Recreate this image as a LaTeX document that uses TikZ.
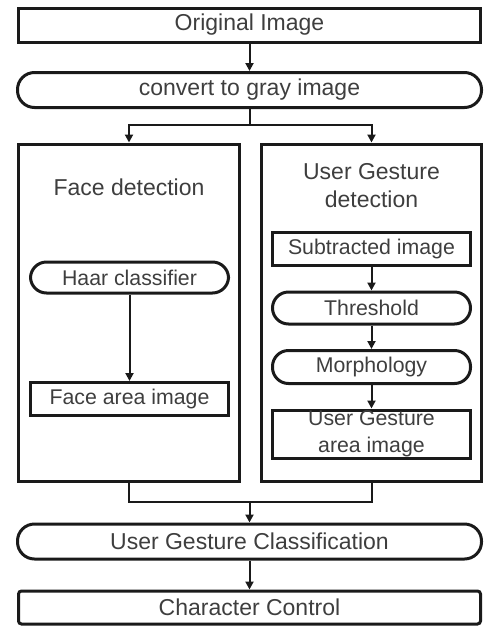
\documentclass[tikz,border=0pt]{standalone}
\usepackage{fontspec}
\setmainfont{Liberation Sans}
\usepackage{xcolor}
\usepackage{tikz}
\usetikzlibrary{arrows.meta}
\usetikzlibrary{positioning}
\definecolor{tinta}{HTML}{3E3E3E}
\definecolor{traco}{HTML}{1A1A1A}
\tikzset{
  passo/.style={draw=traco, line width=3pt, minimum width=#1, minimum height=33pt, inner sep=0pt, align=center, text=tinta, font=\fontsize{21.3}{26.5}\selectfont},
  passo/.default=198pt,
  pilula/.style={passo=#1, rounded corners=16pt},
  pilula/.default=198pt,
  largo/.style={font=\fontsize{23}{27}\selectfont},
  quadro/.style={draw=traco, line width=3pt, minimum width=221pt, minimum height=337pt, inner sep=0pt},
  titulo/.style={text=tinta, align=center, font=\fontsize{23}{28}\selectfont},
  linha/.style={draw=traco, line width=2pt},
  flecha/.style={linha, -{Triangle[length=8pt,width=8pt]}},
}

\begin{document}
\begin{tikzpicture}[x=1pt, y=1pt, node distance=23.5pt]
  \useasboundingbox (0,0) rectangle (487,-630);
  \node[passo=462pt, largo, minimum height=34pt] (orig) at (249.5,-25) {Original Image};
  \node[pilula=464pt, largo, minimum height=35pt, rounded corners=17pt] (cinza) at (249.5,-90) {convert to gray image};
  % os dois ramos
  \node[quadro] (face) at (129,-312.5) {};
  \node[quadro, minimum width=220pt] (gesto) at (371.5,-312.5) {};
  \node[titulo] (tface) at (129,-187) {Face detection};
  \node[titulo] (tgesto) at (371.5,-186) {User Gesture\\detection};
  \node[pilula, minimum height=31pt] (haar) at (129.5,-277.5) {Haar classifier};
  \node[passo] (rosto) at (129.5,-399) {Face area image};
  \node[passo] (sub) at (371.5,-249) {Subtracted image};
  \node[pilula, minimum height=32pt, below=of sub] (limiar) {Threshold};
  \node[pilula, below=of limiar] (morf) {Morphology};
  \node[passo, minimum height=48pt, below=of morf] (area) {User Gesture\\area image};
  \node[pilula=464pt, largo, minimum height=35pt, rounded corners=17pt] (classe) at (249.5,-541.5) {User Gesture Classification};
  \node[passo=462pt, largo, rounded corners=3pt] (ctrl) at (249.5,-607.5) {Character Control};
  \coordinate (divide) at (249.5,-125);
  \coordinate (junta) at (249.5,-502);
  \draw[flecha] (orig) -- (cinza);
  \draw[linha] (cinza) -- (divide);
  \draw[flecha] (divide) -| (face.north);
  \draw[flecha] (divide) -| (gesto.north);
  \draw[flecha] (haar) -- (rosto);
  \foreach \de/\para in {sub/limiar, limiar/morf, morf/area}
    \draw[flecha] (\de) -- (\para);
  \draw[linha] (face.south) |- (junta) -| (gesto.south);
  \draw[flecha] (junta) -- (classe);
  \draw[flecha] (classe) -- (ctrl);
\end{tikzpicture}
\end{document}
